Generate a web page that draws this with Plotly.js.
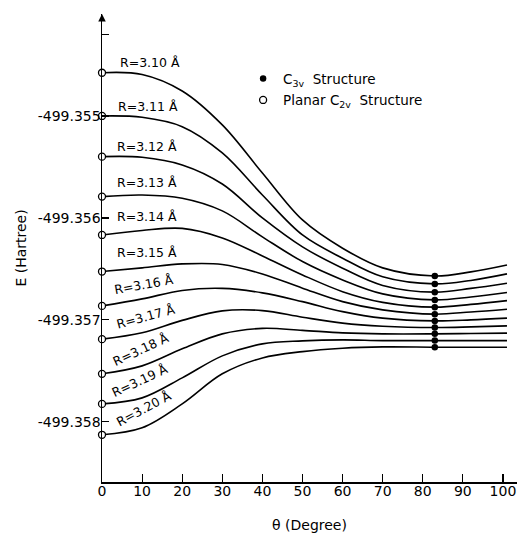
<!DOCTYPE html>
<html>
<head>
<meta charset="utf-8">
<script src="https://cdn.plot.ly/plotly-3.0.1.min.js"></script>
<style>html,body{margin:0;padding:0;background:#fff;}#chart{width:522px;height:539px;}</style>
</head>
<body>
<div id="chart"></div>
<script>
// theta (degree) sample positions
const theta = [0, 10, 20, 30, 40, 50, 60, 70, 83, 92, 101];
const C3V_INDEX = 8; // theta = 83 degree (C3v structure)

const rLabels = ['3.10', '3.11', '3.12', '3.13', '3.14', '3.15', '3.16', '3.17', '3.18', '3.19', '3.20'];

// Energies (Hartree) for each R
const E_310 = [-499.354576, -499.354593, -499.354755, -499.355088, -499.355559, -499.356020, -499.356297, -499.356490, -499.356569, -499.356529, -499.356461];
const E_311 = [-499.355000, -499.355013, -499.355105, -499.355363, -499.355775, -499.356167, -499.356395, -499.356578, -499.356647, -499.356613, -499.356549];
const E_312 = [-499.355399, -499.355405, -499.355480, -499.355667, -499.356000, -499.356284, -499.356493, -499.356662, -499.356728, -499.356691, -499.356640];
const E_313 = [-499.355791, -499.355775, -499.355807, -499.355931, -499.356186, -499.356428, -499.356608, -499.356745, -499.356804, -499.356775, -499.356732];
const E_314 = [-499.356167, -499.356123, -499.356103, -499.356196, -499.356373, -499.356559, -499.356723, -499.356828, -499.356875, -499.356848, -499.356811];
const E_315 = [-499.356526, -499.356490, -499.356451, -499.356456, -499.356549, -499.356689, -499.356821, -499.356902, -499.356944, -499.356922, -499.356895];
const E_316 = [-499.356863, -499.356794, -499.356711, -499.356691, -499.356735, -499.356821, -499.356919, -499.356983, -499.357010, -499.357000, -499.356983];
const E_317 = [-499.357189, -499.357127, -499.357005, -499.356912, -499.356909, -499.356974, -499.357032, -499.357062, -499.357075, -499.357069, -499.357059];
const E_318 = [-499.357529, -499.357451, -499.357284, -499.357137, -499.357083, -499.357103, -499.357127, -499.357137, -499.357137, -499.357134, -499.357130];
const E_319 = [-499.357824, -499.357765, -499.357569, -499.357353, -499.357235, -499.357206, -499.357196, -499.357203, -499.357203, -499.357203, -499.357203];
const E_320 = [-499.358127, -499.358059, -499.357824, -499.357529, -499.357373, -499.357311, -499.357278, -499.357265, -499.357268, -499.357268, -499.357268];

const series = [E_310, E_311, E_312, E_313, E_314, E_315, E_316, E_317, E_318, E_319, E_320];

// axis ticks
const yTickVals = [-499.355, -499.356, -499.357, -499.358];
const yTickText = ['-499.355', '-499.356', '-499.357', '-499.358'];
const yMinorTickVals = [-499.3542];
const xTickVals = [0, 10, 20, 30, 40, 50, 60, 70, 80, 90, 100];

// label placement (theta, E, angle) for the R labels
const labelTheta = [12.0, 11.5, 11.2, 11.2, 11.2, 11.2, 10.5, 11.0, 9.7, 9.5, 10.5];
const labelE = [-499.354480, -499.354912, -499.355304, -499.355657, -499.355990, -499.356343, -499.356657, -499.356971, -499.357294, -499.357598, -499.357873];
const labelAngle = [0, 0, 0, 0, 0, 0, -10, -15, -25, -25, -28];

const FONT = 'DejaVu Sans, Liberation Sans, sans-serif';

const traces = [];
series.forEach((s, i) => {
  traces.push({
    type: 'scatter', mode: 'lines', x: theta, y: s,
    line: {color: '#000', width: 1.6, shape: 'spline', smoothing: 1},
    showlegend: false, hoverinfo: 'skip'
  });
});
traces.push({
  type: 'scatter', mode: 'markers', name: 'C<sub>3v</sub>  Structure',
  legendgroup: 'c3v',
  x: series.map(() => theta[C3V_INDEX]), y: series.map(s => s[C3V_INDEX]),
  marker: {symbol: 'circle', size: 6.5, color: '#000'},
  cliponaxis: false
});
traces.push({
  type: 'scatter', mode: 'markers', name: 'Planar C<sub>2v</sub>  Structure',
  legendgroup: 'c2v',
  x: series.map(() => theta[0]), y: series.map(s => s[0]),
  marker: {symbol: 'circle', size: 7, color: '#fff', line: {color: '#000', width: 1.3}},
  cliponaxis: false
});

const annotations = rLabels.map((r, i) => ({
  x: labelTheta[i], y: labelE[i], xref: 'x', yref: 'y',
  text: 'R=' + r + ' Å', showarrow: false, textangle: labelAngle[i],
  font: {family: FONT, size: 12.5, color: '#000'}
}));
// axis arrow at top of the y axis
annotations.push({
  x: 0, y: -499.354, xref: 'x', yref: 'y', ax: 0, ay: 14, axref: 'pixel', ayref: 'pixel',
  showarrow: true, arrowhead: 2, arrowsize: 1, arrowwidth: 1.5, arrowcolor: '#000', text: ' '
});

const layout = {
  width: 522, height: 539,
  margin: {l: 102, r: 5, t: 14, b: 57, pad: 0},
  paper_bgcolor: '#fff', plot_bgcolor: '#fff',
  font: {family: FONT, size: 14, color: '#000'},
  showlegend: true,
  legend: {
    x: 0.34, y: 0.895, xanchor: 'left', yanchor: 'top',
    bgcolor: 'rgba(0,0,0,0)', borderwidth: 0,
    traceorder: 'grouped', tracegroupgap: 1,
    font: {family: FONT, size: 13.5, color: '#000'},
    itemwidth: 30
  },
  xaxis: {
    range: [0, 103.5], showgrid: false, zeroline: false,
    showline: true, linecolor: '#000', linewidth: 1.5,
    ticks: 'inside', ticklen: 8, tickwidth: 1.2, tickcolor: '#000',
    tickvals: xTickVals, tickfont: {family: FONT, size: 14},
    ticklabelstandoff: -4,
    title: {text: 'θ (Degree)', font: {family: FONT, size: 14}, standoff: 22}
  },
  yaxis: {
    range: [-499.35859, -499.354], showgrid: false, zeroline: false,
    showline: true, linecolor: '#000', linewidth: 1.5,
    ticks: 'inside', ticklen: 7, tickwidth: 1.2, tickcolor: '#000',
    tickvals: yTickVals, ticktext: yTickText, tickfont: {family: FONT, size: 14},
    ticklabelstandoff: -3,
    minor: {tickmode: 'array', tickvals: yMinorTickVals, ticks: 'inside', ticklen: 7, tickwidth: 1.2, tickcolor: '#000', showgrid: false},
    title: {text: 'E (Hartree)', font: {family: FONT, size: 14}, standoff: 8}
  },
  annotations: annotations
};

Plotly.newPlot('chart', traces, layout, {staticPlot: true, displayModeBar: false});
</script>
</body>
</html>
